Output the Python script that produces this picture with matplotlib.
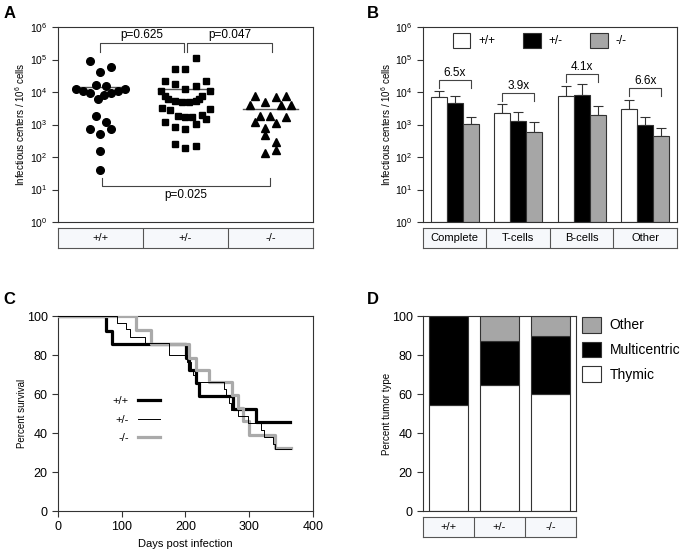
#
# imports
import matplotlib
matplotlib.use('Agg')
import matplotlib.pyplot as plt
from matplotlib.lines import Line2D
from matplotlib.ticker import LogLocator, NullLocator, MultipleLocator
import numpy as np
#
plt.rcParams['font.family'] = ['Liberation Sans', 'DejaVu Sans']
plt.rcParams['mathtext.fontset'] = 'custom'
plt.rcParams['mathtext.rm'] = 'Liberation Sans'
#
#################################################################
# Data
genotypes = ['+/+', '+/-', '-/-']

# Panel A: infectious centers per animal (x offset inside the column, value)
wt_off = [-0.126, 0.122, 0.0, -0.055, 0.063, -0.29, -0.21, 0.29, 0.205, -0.126,
          0.122, 0.04, -0.03, -0.055, 0.063, -0.126, 0.122, 0.0, 0.0, 0.0]
wt_val = [9.1e4, 5.9e4, 4.1e4, 1.6e4, 1.5e4, 1.23e4, 1.05e4, 1.23e4, 1.05e4, 9.1e3,
          9.1e3, 8.1e3, 6.0e3, 1.8e3, 1.2e3, 710, 710, 500, 155, 40]
het_off = [0.12, -0.12, 0.0, -0.245, 0.245, -0.12, 0.12, 0.0, -0.285, 0.285,
           -0.245, 0.2, -0.2, 0.16, -0.12, -0.04, 0.04, 0.12, -0.27, 0.285,
           -0.185, -0.083, 0.0, 0.083, 0.19, 0.24, -0.245, 0.12, -0.12, 0.0,
           -0.12, 0.0, 0.12]
het_val = [1.1e5, 5.0e4, 5.0e4, 2.2e4, 2.2e4, 1.8e4, 1.55e4, 1.23e4, 1.05e4, 1.05e4,
           7.5e3, 7.5e3, 6.0e3, 6.0e3, 5.3e3, 4.8e3, 4.8e3, 5.3e3, 3.3e3, 3.1e3,
           2.8e3, 1.8e3, 1.74e3, 1.74e3, 2.0e3, 1.45e3, 1.2e3, 1.05e3, 840, 730,
           245, 186, 220]
ko_off = [-0.18, 0.063, 0.185, -0.06, -0.245, 0.12, 0.245, -0.12, 0.0, 0.185,
          -0.18, -0.06, 0.063, -0.06, 0.063, 0.063, -0.06]
ko_val = [7.7e3, 7.1e3, 7.7e3, 5.0e3, 3.9e3, 3.9e3, 3.9e3, 1.8e3, 1.8e3, 1.74e3,
          1.2e3, 800, 1.1e3, 490, 290, 166, 131]
centre_lines = [1.45e4, 1.2e4, 2.95e3]
# p-values: bracket ends, bracket level, tick end, label y, label
p_left = [1.0, 2.02, 1.02]
p_right = [1.98, 3.02, 3.0]
p_level = [3.2e5, 3.2e5, 13.0]
p_tick = [1.7e5, 1.7e5, 22.0]
p_text_y = [5.6e5, 5.6e5, 6.8]
p_labels = ['p=0.625', 'p=0.047', 'p=0.025']

# Panel B: mean and upper error per cell type
cell_types = ['Complete', 'T-cells', 'B-cells', 'Other']
mean_wt = [6.8e3, 2.3e3, 7.7e3, 3.1e3]
mean_het = [4.7e3, 1.3e3, 8.3e3, 1.0e3]
mean_ko = [1.04e3, 580, 1.9e3, 455]
top_wt = [1.1e4, 4.2e3, 1.56e4, 5.6e3]
top_het = [7.7e3, 2.5e3, 1.8e4, 1.66e3]
top_ko = [1.7e3, 1.17e3, 3.6e3, 800]
fold_labels = ['6.5x', '3.9x', '4.1x', '6.6x']
fold_level = [2.3e4, 9.5e3, 3.5e4, 1.35e4]

# Panel C: Kaplan-Meier steps (days, percent survival)
wt_days = [0, 76, 84, 201, 205, 217, 222, 275, 310, 364]
wt_surv = [100, 92.3, 85.7, 78.7, 72.1, 65.9, 58.9, 52.5, 45.8, 45.8]
het_days = [0, 93, 107, 113, 137, 174, 203, 208, 212, 217, 260, 264, 268, 272,
            283, 298, 318, 324, 337, 340, 365]
het_surv = [100, 96.4, 93.3, 89.4, 86.0, 80.0, 76.5, 73.0, 69.5, 66.0, 62.5, 59.0,
            55.5, 52.0, 48.5, 45.0, 41.5, 38.0, 34.5, 32.0, 32.0]
ko_days = [0, 123, 146, 206, 217, 237, 273, 283, 291, 300, 341, 365]
ko_surv = [100, 92.8, 85.7, 78.7, 72.1, 66.0, 59.5, 52.6, 46.0, 39.0, 32.3, 32.3]

# Panel D: tumor type percentages
thymic = [54.5, 64.5, 60.0]
multicentric = [45.5, 22.5, 30.0]
other = [0.0, 13.0, 10.0]
#################################################################

grey = '#a6a6a6'
edge = '#333333'

fig = plt.figure(figsize=(6.85, 5.49), dpi=100)

def style_axes(ax, fs):
    for s in ax.spines.values():
        s.set_color(edge)
        s.set_linewidth(0.8)
    ax.tick_params(direction='out', length=4, width=0.8, color=edge, labelsize=fs)

def log_yaxis(ax, xlab):
    ax.set_yscale('log')
    ax.set_ylim(1, 1e6)
    ax.yaxis.set_major_locator(LogLocator(base=10, numticks=10))
    ax.yaxis.set_minor_locator(NullLocator())
    ax.set_ylabel('Infectious centers / 10$^6$ cells', fontsize=7)
    ax.yaxis.set_label_coords(xlab, 0.5)

def table_axes(rect, xlim, names):
    tb = fig.add_axes(rect)
    tb.set_xlim(*xlim)
    tb.set_ylim(0, 1)
    tb.set_facecolor('#f6f8fb')
    tb.set_xticks([])
    tb.set_yticks([])
    for s in tb.spines.values():
        s.set_color('#555555')
        s.set_linewidth(0.8)
    pos = np.arange(len(names)) + xlim[0] + 0.5
    for p in pos[:-1]:
        tb.axvline(p + 0.5, color='#555555', lw=0.8)
    for p, n in zip(pos, names):
        tb.text(p, 0.5, n, ha='center', va='center', fontsize=8)
    return tb

#-------------------------------------
# Panel A
axA = fig.add_axes([0.0847, 0.5956, 0.372, 0.3552])
style_axes(axA, 7.5)
log_yaxis(axA, -0.12)
axA.set_xlim(0.5, 3.5)
axA.set_xticks([])
groups = [(wt_off, wt_val, 'o', 5.5), (het_off, het_val, 's', 5), (ko_off, ko_val, '^', 5.5)]
for i, (off, val, mk, ms) in enumerate(groups):
    xs = np.array(off) + i + 1
    axA.plot(xs, val, mk, color='k', ms=ms, mec='k', ls='none', zorder=3)
    axA.plot([i + 1 - 0.32, i + 1 + 0.32], [centre_lines[i]] * 2, color='#555555', lw=1, zorder=2)
for i in range(3):
    axA.plot([p_left[i], p_left[i], p_right[i], p_right[i]],
             [p_tick[i], p_level[i], p_level[i], p_tick[i]], color='#444444', lw=0.8)
    axA.text((p_left[i] + p_right[i]) / 2, p_text_y[i], p_labels[i], ha='center', va='center', fontsize=8.5)
table_axes([0.0847, 0.5483, 0.372, 0.0364], (0.5, 3.5), genotypes)
fig.text(0.005, 0.975, 'A', fontsize=12, fontweight='bold', va='center')

#-------------------------------------
# Panel B
axB = fig.add_axes([0.6175, 0.5956, 0.3708, 0.3552])
style_axes(axB, 7.5)
log_yaxis(axB, -0.118)
axB.set_xlim(-0.5, 3.5)
axB.set_xticks([])
xg = np.arange(len(cell_types))
w = 0.25
series = [(mean_wt, top_wt, 'white', '+/+'), (mean_het, top_het, 'black', '+/-'), (mean_ko, top_ko, grey, '-/-')]
for k, (m, t, c, lab) in enumerate(series):
    xb = xg + (k - 1) * w
    axB.bar(xb, np.array(m) - 1, bottom=1, width=w, color=c, edgecolor=edge, lw=0.8, label=lab, zorder=2)
    axB.errorbar(xb, m, yerr=[np.zeros(len(m)), np.array(t) - np.array(m)], fmt='none',
                 ecolor=edge, elinewidth=0.8, capsize=3.5, capthick=0.8, zorder=1)
for i in range(len(cell_types)):
    lvl = fold_level[i]
    drop = lvl / 10 ** 0.24
    axB.plot([i - w, i - w, i + w, i + w], [drop, lvl, lvl, drop], color='#444444', lw=0.8)
    axB.text(i, lvl * 10 ** 0.22, fold_labels[i], ha='center', va='center', fontsize=8.5)
axB.legend(loc='upper center', bbox_to_anchor=(0.46, 1.005), ncol=3, frameon=False, fontsize=8.5,
           handlelength=1.5, handleheight=1.5, handletextpad=0.7, columnspacing=2.3, borderaxespad=0.2)
table_axes([0.6175, 0.5483, 0.3708, 0.0364], (-0.5, 3.5), cell_types)
fig.text(0.535, 0.975, 'B', fontsize=12, fontweight='bold', va='center')

#-------------------------------------
# Panel C
axC = fig.add_axes([0.0847, 0.0692, 0.372, 0.3552])
style_axes(axC, 9)
axC.set_xlim(0, 400)
axC.set_ylim(0, 100)
axC.xaxis.set_major_locator(MultipleLocator(100))
axC.yaxis.set_major_locator(MultipleLocator(20))
axC.step(wt_days, wt_surv, where='post', color='black', lw=2.3, zorder=2)
axC.step(ko_days, ko_surv, where='post', color='#aaaaaa', lw=2.3, zorder=3)
axC.step(het_days, het_surv, where='post', color='black', lw=0.7, zorder=4)
axC.set_xlabel('Days post infection', fontsize=8)
axC.set_ylabel('Percent survival', fontsize=7)
axC.yaxis.set_label_coords(-0.12, 0.5)
handles = [Line2D([], [], color='black', lw=2.3), Line2D([], [], color='black', lw=0.7),
           Line2D([], [], color='#aaaaaa', lw=2.3)]
axC.legend(handles, genotypes, loc='upper left', bbox_to_anchor=(0.175, 0.64), frameon=False,
           markerfirst=False, fontsize=8, handlelength=2.0, handletextpad=0.8, labelspacing=0.75)
fig.text(0.005, 0.455, 'C', fontsize=12, fontweight='bold', va='center')

#-------------------------------------
# Panel D
axD = fig.add_axes([0.6175, 0.0692, 0.2234, 0.3552])
style_axes(axD, 9)
axD.set_xlim(0.5, 3.5)
axD.set_ylim(0, 100)
axD.set_xticks([])
axD.yaxis.set_major_locator(MultipleLocator(20))
xd = np.arange(1, 4)
b_th = axD.bar(xd, thymic, width=0.78, color='white', edgecolor=edge, lw=0.8, label='Thymic')
b_mc = axD.bar(xd, multicentric, bottom=thymic, width=0.78, color='black', edgecolor=edge, lw=0.8, label='Multicentric')
b_ot = axD.bar(xd, other, bottom=np.array(thymic) + np.array(multicentric), width=0.78, color=grey,
               edgecolor=edge, lw=0.8, label='Other')
axD.set_ylabel('Percent tumor type', fontsize=7)
axD.yaxis.set_label_coords(-0.203, 0.5)
axD.legend([b_ot, b_mc, b_th], ['Other', 'Multicentric', 'Thymic'], loc='upper left',
           bbox_to_anchor=(1.04, 0.995), frameon=False, fontsize=10, borderaxespad=0, borderpad=0,
           handlelength=1.37, handleheight=1.37, handletextpad=0.6, labelspacing=0.63)
table_axes([0.6175, 0.0219, 0.2234, 0.0364], (0.5, 3.5), genotypes)
fig.text(0.535, 0.455, 'D', fontsize=12, fontweight='bold', va='center')

fig.savefig('out.png', dpi=100)
